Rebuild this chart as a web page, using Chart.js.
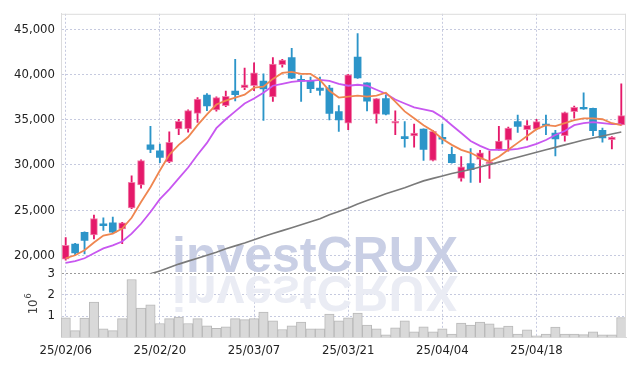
<!DOCTYPE html>
<html>
<head>
<meta charset="utf-8">
<script src="https://cdn.jsdelivr.net/npm/chart.js@4.4.1/dist/chart.umd.min.js"></script>
<style>
  html, body { margin: 0; padding: 0; background: #fff; }
  #wrap { width: 634px; height: 366px; }
</style>
</head>
<body>
<div id="wrap"><canvas id="stockChart"></canvas></div>
<script>
const dates = [
  '25/02/06','25/02/07','25/02/10','25/02/11','25/02/12','25/02/13','25/02/14','25/02/17','25/02/18','25/02/19',
  '25/02/20','25/02/21','25/02/24','25/02/25','25/02/26','25/02/27','25/02/28','25/03/04','25/03/05','25/03/06',
  '25/03/07','25/03/10','25/03/11','25/03/12','25/03/13','25/03/14','25/03/17','25/03/18','25/03/19','25/03/20',
  '25/03/21','25/03/24','25/03/25','25/03/26','25/03/27','25/03/28','25/03/31','25/04/01','25/04/02','25/04/03',
  '25/04/04','25/04/07','25/04/08','25/04/09','25/04/10','25/04/11','25/04/14','25/04/15','25/04/16','25/04/17',
  '25/04/18','25/04/21','25/04/22','25/04/23','25/04/24','25/04/25','25/04/28','25/04/29','25/04/30','25/05/02'
];

const opens = [
  19560, 21230, 22550, 22260, 23490, 23600, 22920, 25240, 27790, 32230,
  31580, 30340, 34010, 34010, 35720, 37750, 36090, 36570, 38200, 38560,
  38780, 39300, 37550, 41110, 41910, 39500, 39370, 38530, 38530, 35910,
  34630, 41950, 39110, 35620, 37360, 34630, 33140, 33210, 33980, 30520,
  33070, 31170, 28520, 30160, 30630, 30160, 31720, 32740, 34820, 33910,
  33980, 34520, 33540, 33250, 35910, 36380, 36270, 33840, 32810, 34450
];
const highs = [
  21970, 21310, 22600, 24440, 24150, 24230, 23650, 28810, 30560, 34270,
  32310, 33680, 35070, 36100, 37470, 37910, 37550, 38200, 41700, 40750,
  41330, 40090, 41910, 41700, 42930, 39900, 39730, 39730, 38830, 36570,
  40050, 44570, 39110, 37360, 37740, 35990, 34820, 34520, 34000, 33800,
  34520, 31980, 30920, 31830, 31620, 31540, 34270, 34200, 35540, 34910,
  35070, 35540, 33840, 35850, 36530, 37990, 36300, 34090, 33150, 39000
];
const lows = [
  19450, 20080, 20140, 21820, 22760, 22500, 21280, 25170, 27430, 31360,
  30260, 30260, 33360, 33650, 34710, 36020, 35950, 36460, 37110, 38340,
  38230, 34930, 37030, 40830, 39550, 37030, 38020, 37740, 34990, 33730,
  33910, 39600, 35990, 34630, 35550, 33360, 31980, 31980, 30520, 30450,
  32340, 30200, 28200, 28080, 28080, 28520, 31650, 31540, 33620, 32740,
  33900, 33360, 31000, 32640, 35180, 36150, 33250, 32530, 31790, 34400
];
const closes = [
  21090, 20250, 21640, 24070, 23280, 22545, 23600, 28080, 30480, 31720,
  30840, 32520, 34850, 36020, 37290, 36550, 37470, 37620, 37800, 38890,
  40200, 38420, 41190, 41620, 39620, 39300, 38450, 38270, 35720, 34990,
  39980, 39660, 37070, 37360, 35620, 34850, 32920, 33540, 31720, 33730,
  32850, 30260, 29800, 29470, 31360, 30340, 32640, 34090, 34270, 34390,
  34820, 34390, 32890, 35800, 36380, 36200, 33790, 33000, 33100, 35470
];

// moving average lines
const maShort = [
  19670, 20000, 20550, 21420, 22180, 22400, 22950, 24150, 25900, 27530,
  29390, 31140, 32230, 33100, 34410, 35610, 36700, 37140, 37470, 37790,
  38560, 38670, 39540, 40200, 40310, 40090, 40090, 39430, 38230, 37470,
  37580, 37690, 37580, 37690, 38010, 37030, 35940, 35170, 34410, 33760,
  32880, 32230, 31680, 31350, 30810, 30370, 30920, 31680, 32450, 33210,
  33970, 34410, 34300, 34630, 34960, 35170, 35170, 35070, 34630, 34410
];
const maMid = [
  19160, 19340, 19670, 20220, 20760, 21090, 21530, 22400, 23490, 24800,
  26220, 27310, 28520, 29720, 31140, 32450, 34080, 35070, 35940, 36810,
  37360, 38010, 38780, 39000, 39210, 39320, 39320, 39430, 39320, 39000,
  38780, 38890, 38780, 38340, 37900, 37250, 36810, 36380, 36160, 35940,
  35280, 34410, 33540, 32660, 32120, 31680, 31680, 31680, 31790, 32010,
  32340, 32770, 33320, 33760, 34410, 34630, 34740, 34630, 34520, 34520
];
const maLong = [
  null, null, null, null, null, null, null, null, 17700, 17950,
  18250, 18640, 19020, 19350, 19670, 20000, 20330, 20710, 21040, 21360,
  21710, 22070, 22400, 22730, 23060, 23380, 23710, 24040, 24480, 24860,
  25240, 25680, 26060, 26440, 26820, 27150, 27480, 27860, 28240, 28520,
  28790, 29060, 29280, 29500, 29770, 30040, 30320, 30590, 30860, 31140,
  31410, 31680, 31950, 32230, 32500, 32770, 32990, 33210, 33430, 33650
];

// volume in millions of shares
const volumes = [
  0.92, 0.32, 0.91, 1.65, 0.40, 0.32, 0.88, 2.71, 1.37, 1.52,
  0.65, 0.88, 0.95, 0.65, 0.88, 0.54, 0.42, 0.49, 0.88, 0.83,
  0.88, 1.18, 0.78, 0.37, 0.54, 0.72, 0.40, 0.40, 1.09, 0.78,
  0.92, 1.14, 0.58, 0.40, 0.12, 0.45, 0.77, 0.26, 0.49, 0.26,
  0.40, 0.16, 0.67, 0.58, 0.72, 0.63, 0.45, 0.53, 0.16, 0.35,
  0.07, 0.16, 0.48, 0.15, 0.15, 0.13, 0.26, 0.12, 0.12, 0.93
];

const priceTicks = [20000, 25000, 30000, 35000, 40000, 45000];
const volumeTicks = [1, 2, 3];

const UP = '#e5196a';
const DOWN = '#2c95c9';
const FONT = "'DejaVu Sans Condensed', 'DejaVu Sans', sans-serif";
const GRID = '#c6cadf';

const isUp = i => closes[i] >= opens[i];

const watermark = {
  id: 'watermark',
  beforeDatasetsDraw(chart) {
    const ctx = chart.ctx;
    const base = chart.scales.yv.top;
    ctx.save();
    ctx.font = "bold 50px 'Liberation Sans', Arial, sans-serif";
    ctx.textBaseline = 'alphabetic';
    ctx.fillStyle = '#c9cfe5';
    ctx.fillText('investCRUX', 172, base - 1);
    ctx.translate(0, 2 * base + 2);
    ctx.scale(1, -1);
    ctx.fillStyle = '#eaecf4';
    ctx.fillText('investCRUX', 172, base - 1);
    ctx.restore();
  },
  afterDraw(chart) {
    const ctx = chart.ctx;
    const a = chart.chartArea;
    const yv = chart.scales.yv;
    ctx.save();
    ctx.strokeStyle = '#dcdcdc';
    ctx.lineWidth = 1;
    ctx.beginPath();
    ctx.moveTo(a.left, a.top + 0.5);
    ctx.lineTo(a.right, a.top + 0.5);
    ctx.moveTo(a.right - 0.5, a.top);
    ctx.lineTo(a.right - 0.5, a.bottom);
    ctx.stroke();
    // exponent label for the volume pane
    ctx.translate(37, (yv.top + yv.bottom) / 2 + 9);
    ctx.rotate(-Math.PI / 2);
    ctx.fillStyle = '#444';
    ctx.font = '13px ' + FONT;
    ctx.textBaseline = 'alphabetic';
    ctx.fillText('10', 0, 0);
    const w = ctx.measureText('10').width;
    ctx.font = '9px ' + FONT;
    ctx.fillText('6', w + 1, -6);
    ctx.restore();
  }
};

const ctx = document.getElementById('stockChart').getContext('2d');
new Chart(ctx, {
  data: {
    labels: dates,
    datasets: [
      {
        type: 'line',
        label: 'MA5',
        data: maShort,
        borderColor: '#ef8650',
        borderWidth: 1.8,
        pointRadius: 0,
        yAxisID: 'y'
      },
      {
        type: 'line',
        label: 'MA10',
        data: maMid,
        borderColor: '#c857f0',
        borderWidth: 1.8,
        pointRadius: 0,
        yAxisID: 'y'
      },
      {
        type: 'line',
        label: 'MA long',
        data: maLong,
        borderColor: '#7a7a7a',
        borderWidth: 1.6,
        pointRadius: 0,
        yAxisID: 'y'
      },
      {
        type: 'bar',
        label: 'body',
        data: dates.map((d, i) => [opens[i], closes[i]]),
        backgroundColor: c => isUp(c.dataIndex) ? UP : DOWN,
        borderColor: c => isUp(c.dataIndex) ? 'rgba(240,120,165,0.9)' : DOWN,
        borderWidth: c => isUp(c.dataIndex) ? 1 : 0,
        borderSkipped: false,
        barThickness: 7,
        grouped: false,
        yAxisID: 'y'
      },
      {
        type: 'bar',
        label: 'wick',
        data: dates.map((d, i) => [lows[i], highs[i]]),
        backgroundColor: c => isUp(c.dataIndex) ? UP : DOWN,
        barThickness: 1.2,
        grouped: false,
        yAxisID: 'y'
      },
      {
        type: 'bar',
        label: 'volume',
        data: volumes,
        backgroundColor: '#d9d9d9',
        borderColor: '#b9b9b9',
        borderWidth: 1,
        categoryPercentage: 1,
        barPercentage: 1,
        grouped: false,
        yAxisID: 'yv'
      }
    ]
  },
  options: {
    responsive: true,
    maintainAspectRatio: false,
    animation: false,
    layout: { padding: { top: 9, right: 8, left: 0, bottom: 3 } },
    plugins: {
      legend: { display: false },
      tooltip: { enabled: false }
    },
    scales: {
      x: {
        type: 'category',
        offset: true,
        afterBuildTicks: s => { s.ticks = s.ticks.filter(t => t.value % 10 === 0); },
        grid: { offset: false, drawTicks: false, color: GRID },
        border: { display: true, color: '#dcdcdc', dash: [2, 2] },
        ticks: {
          autoSkip: false,
          maxRotation: 0,
          padding: 5,
          color: '#222',
          font: { family: FONT, size: 13 }
        }
      },
      yv: {
        type: 'linear',
        position: 'left',
        stack: 'panes',
        stackWeight: 1,
        min: 0,
        max: 3,
        afterBuildTicks: s => { s.ticks = volumeTicks.map(v => ({ value: v })); },
        afterFit: s => { s.width = 61; },
        grid: {
          drawTicks: false,
          color: c => c.tick && c.tick.value === 3 ? '#9a9a9a' : GRID
        },
        border: { display: true, color: '#dcdcdc', dash: [2, 2] },
        ticks: {
          autoSkip: false,
          padding: 6,
          color: '#222',
          font: { family: FONT, size: 13 }
        }
      },
      y: {
        type: 'linear',
        position: 'left',
        stack: 'panes',
        stackWeight: 4.05,
        min: 18000,
        max: 46750,
        afterBuildTicks: s => { s.ticks = priceTicks.map(v => ({ value: v })); },
        afterFit: s => { s.width = 61; },
        grid: { drawTicks: false, color: GRID },
        border: { display: true, color: '#dcdcdc', dash: [2, 2] },
        ticks: {
          autoSkip: false,
          padding: 6,
          color: '#222',
          font: { family: FONT, size: 13 },
          callback: v => v.toLocaleString('en-US')
        }
      }
    }
  },
  plugins: [watermark]
});
</script>
</body>
</html>
